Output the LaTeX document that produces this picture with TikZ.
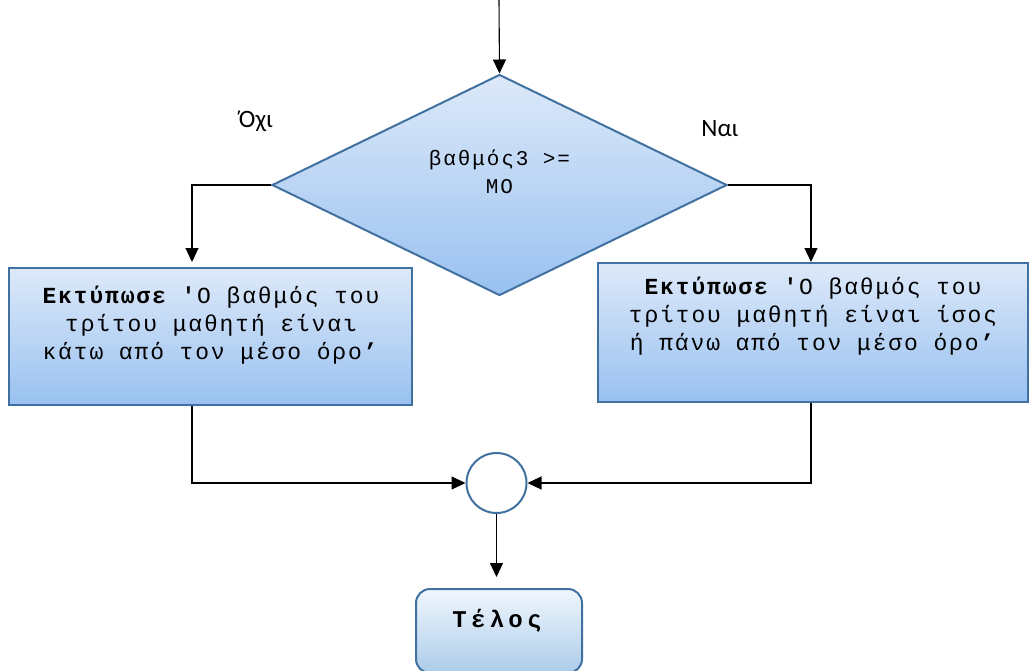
\documentclass[tikz,border=0pt]{standalone}
\usepackage{fontspec}
\setmainfont{Liberation Mono}
\newfontfamily\boxfont[LetterSpace=8]{Liberation Mono}
\newfontfamily\condfont[LetterSpace=9]{Liberation Mono}
\newfontfamily\endfont[LetterSpace=18]{Liberation Mono}
\newfontfamily\labelfont{Carlito}
\usetikzlibrary{shapes.geometric,arrows.meta}

\definecolor{edgeblue}{RGB}{65,113,160}
\definecolor{filltop}{RGB}{221,233,249}
\definecolor{fillbot}{RGB}{153,193,240}
\definecolor{endtop}{RGB}{240,246,253}
\definecolor{endbot}{RGB}{172,204,234}

\tikzset{
  shapeline/.style={draw=edgeblue, line width=2pt},
  decision/.style={shapeline, diamond, inner sep=0pt, aspect=2.06,
    minimum width=455pt, minimum height=221pt,
    top color=filltop, bottom color=fillbot},
  printbox/.style={shapeline, rectangle, inner sep=0pt,
    top color=filltop, bottom color=fillbot},
  endbox/.style={shapeline, rectangle, rounded corners=14pt, inner sep=0pt,
    minimum width=166pt, minimum height=84pt,
    top color=endtop, bottom color=endbot},
  joinpt/.style={shapeline, circle, fill=white, minimum size=60pt, inner sep=0pt},
  boxtext/.style={align=center, inner sep=0pt,
    font=\fontsize{23pt}{28pt}\boxfont},
  condtext/.style={align=center, inner sep=0pt,
    font=\fontsize{21pt}{28pt}\condfont},
  endtext/.style={inner sep=0pt, font=\fontsize{24pt}{28pt}\endfont\bfseries},
  branch/.style={font=\fontsize{25pt}{28pt}\labelfont, inner sep=0pt},
  arr/.style={draw=black, line width=1.1pt,
    -{Triangle[length=14pt,width=13pt]}},
}

\begin{document}
\begin{tikzpicture}[x=1pt,y=-1pt]
  \useasboundingbox (0,0) rectangle (1030,670);

  % decision
  \node[decision] (cond) at (499.5,185) {};
  \node[condtext] (condtxt) at (499.5,172) {βαθμός3 >=\\ΜΟ};

  % output boxes
  \node[printbox, minimum width=403pt, minimum height=137pt] (lbox) at (210.5,336.5) {};
  \node[boxtext] (ltxt) at (211,325) {\textbf{Εκτύπωσε '}Ο βαθμός του\\τρίτου μαθητή είναι\\κάτω από τον μέσο όρο\textbf{’}};

  \node[printbox, minimum width=430pt, minimum height=139pt] (rbox) at (813,332.5) {};
  \node[boxtext] (rtxt) at (813,316) {\textbf{Εκτύπωσε '}Ο βαθμός του\\τρίτου μαθητή είναι ίσος\\ή πάνω από τον μέσο όρο\textbf{’}};

  % join point and end
  \node[joinpt] (join) at (496.5,483) {};
  \node[endbox] (finish) at (499,631) {};
  \node[endtext] (endtxt) at (497,621) {Τέλος};

  % branch labels
  \node[branch] (no) at (256,121) {Όχι};
  \node[branch] (yes) at (720,129) {Ναι};

  % connectors
  \coordinate (entry) at (499,0);
  \draw[arr] (entry) -- (cond.north);
  \draw[arr, shorten >=5pt] (cond.west) -| ([xshift=-18.5pt]lbox.north);
  \draw[arr] (cond.east) -| ([xshift=-2pt]rbox.north);
  \draw[arr] ([xshift=-18.5pt]lbox.south) |- (join.west);
  \draw[arr] ([xshift=-2pt]rbox.south) |- (join.east);
  \draw[arr, shorten >=11pt] (join.south) -- (join.south |- finish.north);
\end{tikzpicture}
\end{document}
